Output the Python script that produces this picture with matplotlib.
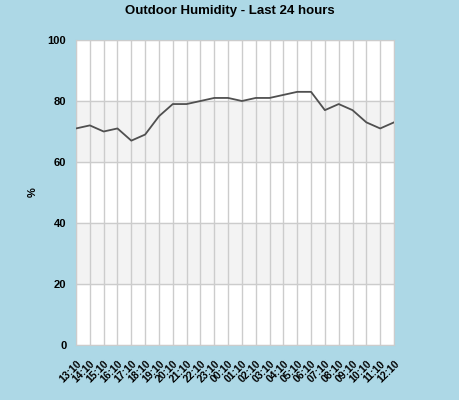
import matplotlib
matplotlib.use("Agg")
import matplotlib.pyplot as plt

# readings of the last 24 hours
hours = ["13:10", "14:10", "15:10", "16:10", "17:10", "18:10", "19:10", "20:10",
         "21:10", "22:10", "23:10", "00:10", "01:10", "02:10", "03:10", "04:10",
         "05:10", "06:10", "07:10", "08:10", "09:10", "10:10", "11:10", "12:10"]
humidity = [71, 72, 70, 71, 67, 69, 75, 79, 79, 80, 81, 81,
            80, 81, 81, 82, 83, 83, 77, 79, 77, 73, 71, 73]
y_ticks = [0, 20, 40, 60, 80, 100]

plt.rcParams['font.family'] = ['Liberation Sans', 'DejaVu Sans']

bg = "#add8e6"
fig = plt.figure(figsize=(4.6, 4.0), dpi=100, facecolor=bg)
ax = fig.add_axes([76 / 460, 55 / 400, 318 / 460, 305 / 400])
ax.set_facecolor("white")

x = list(range(len(hours)))

# alternating bands
for lo, hi in [(20, 40), (60, 80)]:
    ax.axhspan(lo, hi, color="#f3f3f3", zorder=0)

ax.set_xlim(0, len(hours) - 1)
ax.set_ylim(0, 100)
ax.set_xticks(x)
ax.set_xticklabels(hours, rotation=45, ha="right", rotation_mode="anchor",
                   fontsize=7.5, fontweight="bold")
ax.set_yticks(y_ticks)
ax.set_yticklabels([str(v) for v in y_ticks], fontsize=8, fontweight="bold")
ax.tick_params(axis="x", length=0, pad=10)
ax.tick_params(axis="y", length=0, pad=7)
ax.grid(True, color="#cccccc", linewidth=1)
ax.set_axisbelow(True)
for s in ax.spines.values():
    s.set_color("#cccccc")

ax.plot(x, humidity, color="#505050", linewidth=1.3, zorder=3)

ax.set_ylabel("%", fontsize=8, fontweight="bold", labelpad=7)
fig.text(230 / 460, 1 - 11 / 400, "Outdoor Humidity - Last 24 hours",
         ha="center", va="center", fontsize=9.5, fontweight="bold")

fig.savefig("out.png", dpi=100, facecolor=bg)
